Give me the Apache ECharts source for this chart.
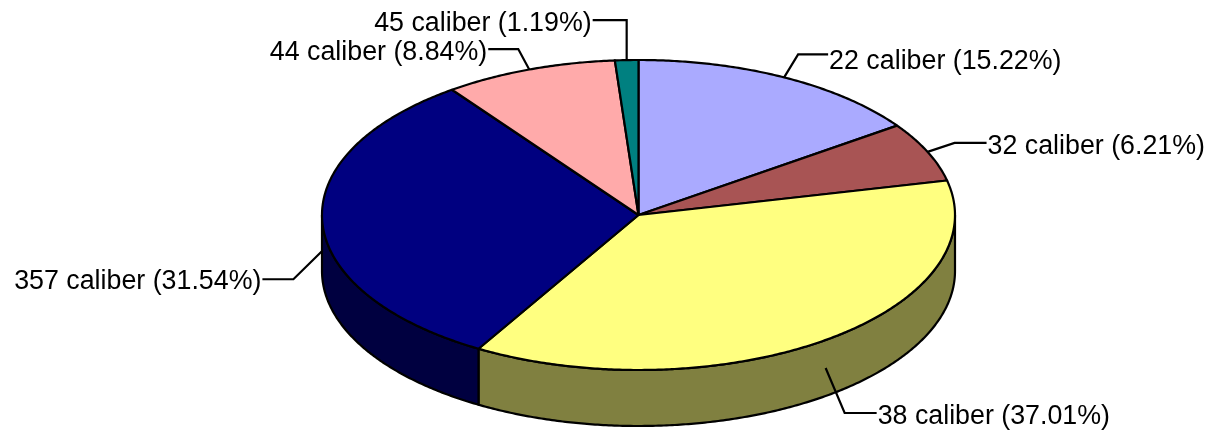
<!DOCTYPE html>
<html><head><meta charset="utf-8">
<script src="https://cdn.jsdelivr.net/npm/echarts@6/dist/echarts.min.js"></script>
<style>html,body{margin:0;padding:0;background:#fff}#c{width:1210px;height:437px}</style>
</head><body><div id="c"></div>
<script>
// ---- data ----
const categories = ['22 caliber', '32 caliber', '38 caliber', '357 caliber', '44 caliber', '45 caliber'];
const shares = [15.22, 6.21, 37.01, 31.54, 8.84, 1.19];

// ---- styles / layout (kept separate from data) ----
const topColors = ['#AAAAFF', '#A85454', '#FFFF80', '#000080', '#FFAAAA', '#008080'];
const sideColors = ['#555580', '#542A2A', '#808040', '#000040', '#805555', '#004040'];
const labelLayout = [
  { dx: 14, dy: -23, len: 30, side: 1, ty: 7.7 },
  { dx: 27, dy: -9, len: 32, side: 1, ty: 3.8 },
  { dx: 19, dy: 45, len: 32, side: 1, ty: 3.3 },
  { dx: -29, dy: 28.5, len: 31, side: -1, ty: 2 },
  { dx: -11, dy: -20.5, len: 30, side: -1, ty: 3.5 },
  { dx: 0, dy: -40, len: 34, side: -1, ty: 3.5 }
];
const geo = { cx: 638.5, cy: 215, rx: 316.5, ry: 155, depth: 56 };
const FONT = '26.8px "Liberation Sans", Arial, sans-serif';
const LW = 2.2;

const total = shares.reduce((a, b) => a + b, 0);
const starts = [];
(function () { let acc = 0; shares.forEach(v => { starts.push(acc); acc += v; }); })();

function ang(f) { return f / total * 2 * Math.PI; }
function pt(t, dz) { return [geo.cx + geo.rx * Math.sin(t), geo.cy - geo.ry * Math.cos(t) + dz]; }
function arc(a, b, dz) {
  const pts = [];
  const n = Math.max(2, Math.ceil((b - a) / (Math.PI / 360)));
  for (let k = 0; k <= n; k++) pts.push(pt(a + (b - a) * k / n, dz));
  return pts;
}

const chart = echarts.init(document.getElementById('c'), null, { renderer: 'canvas' });

const seriesData = shares.map((v, i) => ({ name: categories[i], value: v }));

chart.setOption({
  animation: false,
  backgroundColor: '#fff',
  series: [
    {
      type: 'custom', coordinateSystem: 'none', z: 1, data: seriesData, silent: true,
      renderItem: function (params, api) {
        const i = params.dataIndex, v = api.value(0);
        const a0 = ang(starts[i]), a1 = ang(starts[i] + v);
        const a = Math.max(a0, Math.PI / 2), b = Math.min(a1, 3 * Math.PI / 2);
        if (a >= b) return { type: 'group', children: [] };
        const pts = arc(a, b, 0).concat(arc(a, b, geo.depth).reverse());
        return { type: 'polygon', shape: { points: pts },
          style: { fill: sideColors[i], stroke: '#000', lineWidth: LW, lineJoin: 'round' } };
      }
    },
    {
      type: 'custom', coordinateSystem: 'none', z: 2, data: seriesData, silent: true,
      renderItem: function (params, api) {
        const i = params.dataIndex, v = api.value(0);
        const a0 = ang(starts[i]), a1 = ang(starts[i] + v);
        const pts = [[geo.cx, geo.cy]].concat(arc(a0, a1, 0));
        return { type: 'polygon', shape: { points: pts },
          style: { fill: topColors[i], stroke: '#000', lineWidth: LW, lineJoin: 'round' } };
      }
    },
    {
      type: 'custom', coordinateSystem: 'none', z: 3, data: seriesData, silent: true,
      renderItem: function (params, api) {
        const i = params.dataIndex, v = api.value(0);
        const a0 = ang(starts[i]), a1 = ang(starts[i] + v);
        const mid = (a0 + a1) / 2;
        const front = mid > Math.PI / 2 && mid < 3 * Math.PI / 2;
        const anc = pt(mid, front ? geo.depth / 2 : 0);
        const L = labelLayout[i];
        const elbow = [anc[0] + L.dx, anc[1] + L.dy];
        const end = [elbow[0] + L.side * L.len, elbow[1]];
        const txt = categories[i] + ' (' + v.toFixed(2) + '%)';
        return {
          type: 'group',
          children: [
            { type: 'polyline', shape: { points: [anc, elbow, end] },
              style: { stroke: '#000', lineWidth: LW, fill: null } },
            { type: 'text',
              style: { text: txt, x: end[0] + L.side * 1, y: elbow[1] + L.ty, font: FONT, fill: '#000',
                align: L.side > 0 ? 'left' : 'right', verticalAlign: 'middle' } }
          ]
        };
      }
    }
  ]
});
</script>
</body></html>
